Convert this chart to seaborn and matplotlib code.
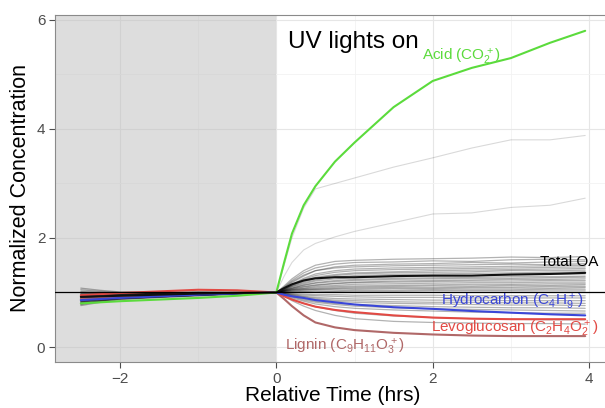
import matplotlib
matplotlib.use("Agg")
import matplotlib.pyplot as plt
from matplotlib.ticker import MultipleLocator
import numpy as np
import pandas as pd
import seaborn as sns

# === Data ===
time_hrs = [-2.5, -2.25, -2.0, -1.5, -1.0, -0.5, 0.0,
            0.1, 0.2, 0.35, 0.5, 0.75, 1.0, 1.5, 2.0, 2.5, 3.0, 3.5, 3.95]

acid = [0.80, 0.82, 0.84, 0.87, 0.90, 0.94, 1.0,
        1.55, 2.08, 2.60, 2.95, 3.40, 3.75, 4.40, 4.88, 5.12, 5.30, 5.58, 5.80]
total_oa = [0.92, 0.93, 0.94, 0.96, 0.98, 0.99, 1.0,
            1.08, 1.15, 1.22, 1.26, 1.28, 1.28, 1.30, 1.31, 1.31, 1.33, 1.34, 1.36]
hydrocarbon = [0.86, 0.88, 0.90, 0.93, 0.96, 0.98, 1.0,
               0.96, 0.93, 0.90, 0.86, 0.82, 0.78, 0.73, 0.70, 0.66, 0.63, 0.60, 0.58]
levoglucosan = [0.95, 0.97, 0.99, 1.02, 1.05, 1.04, 1.0,
                0.93, 0.87, 0.80, 0.74, 0.68, 0.64, 0.58, 0.54, 0.52, 0.51, 0.51, 0.51]
lignin = [0.88, 0.90, 0.92, 0.95, 0.97, 0.99, 1.0,
          0.88, 0.75, 0.58, 0.45, 0.36, 0.31, 0.26, 0.23, 0.21, 0.20, 0.20, 0.20]

# two faint ions that climb well above the bundle
high_ions = [
    [0.84, 0.87, 0.90, 0.93, 0.96, 0.98, 1.0, 1.50, 2.00, 2.55, 2.90, 3.00, 3.10, 3.30, 3.47, 3.65, 3.80, 3.80, 3.88],
    [0.90, 0.92, 0.94, 0.96, 0.98, 0.99, 1.0, 1.30, 1.55, 1.78, 1.90, 2.02, 2.12, 2.28, 2.44, 2.46, 2.56, 2.60, 2.73],
]

# remaining ions (gray bundle)
other_ions = [
    [0.78, 0.84, 0.88, 0.91, 0.94, 0.97, 1.0, 1.12, 1.25, 1.40, 1.50, 1.57, 1.59, 1.61, 1.62, 1.63, 1.65, 1.64, 1.66],
    [1.08, 1.04, 1.01, 1.00, 1.01, 1.00, 1.0, 1.10, 1.22, 1.36, 1.45, 1.52, 1.55, 1.56, 1.58, 1.57, 1.60, 1.61, 1.60],
    [0.85, 0.88, 0.91, 0.93, 0.95, 0.98, 1.0, 1.08, 1.18, 1.30, 1.40, 1.47, 1.50, 1.52, 1.53, 1.55, 1.54, 1.56, 1.57],
    [0.95, 0.96, 0.97, 0.98, 0.99, 1.00, 1.0, 1.09, 1.20, 1.32, 1.40, 1.45, 1.47, 1.49, 1.50, 1.51, 1.52, 1.51, 1.53],
    [0.80, 0.85, 0.89, 0.92, 0.95, 0.98, 1.0, 1.07, 1.15, 1.26, 1.34, 1.40, 1.43, 1.45, 1.46, 1.47, 1.48, 1.49, 1.50],
    [1.02, 1.00, 0.99, 0.99, 1.00, 1.00, 1.0, 1.06, 1.14, 1.24, 1.31, 1.37, 1.40, 1.42, 1.43, 1.44, 1.45, 1.46, 1.47],
    [0.90, 0.92, 0.94, 0.95, 0.97, 0.99, 1.0, 1.06, 1.13, 1.22, 1.28, 1.33, 1.36, 1.38, 1.40, 1.41, 1.42, 1.43, 1.44],
    [0.83, 0.87, 0.90, 0.93, 0.96, 0.98, 1.0, 1.05, 1.12, 1.20, 1.26, 1.31, 1.34, 1.36, 1.37, 1.38, 1.40, 1.40, 1.41],
    [0.98, 0.98, 0.98, 0.99, 1.00, 1.00, 1.0, 1.05, 1.11, 1.18, 1.23, 1.28, 1.31, 1.33, 1.34, 1.35, 1.36, 1.37, 1.38],
    [0.88, 0.90, 0.92, 0.94, 0.96, 0.99, 1.0, 1.04, 1.10, 1.16, 1.21, 1.25, 1.27, 1.29, 1.30, 1.31, 1.32, 1.33, 1.34],
    [0.93, 0.94, 0.95, 0.96, 0.98, 0.99, 1.0, 1.04, 1.08, 1.14, 1.18, 1.22, 1.24, 1.26, 1.27, 1.28, 1.29, 1.29, 1.30],
    [0.76, 0.82, 0.87, 0.91, 0.94, 0.97, 1.0, 1.04, 1.08, 1.13, 1.17, 1.20, 1.22, 1.24, 1.25, 1.26, 1.26, 1.27, 1.28],
    [1.05, 1.02, 1.00, 1.00, 1.00, 1.00, 1.0, 1.03, 1.07, 1.11, 1.14, 1.17, 1.19, 1.21, 1.22, 1.23, 1.24, 1.24, 1.25],
    [0.87, 0.89, 0.92, 0.94, 0.96, 0.98, 1.0, 1.03, 1.06, 1.10, 1.13, 1.16, 1.18, 1.19, 1.20, 1.21, 1.21, 1.22, 1.22],
    [0.96, 0.96, 0.97, 0.98, 0.99, 1.00, 1.0, 1.03, 1.05, 1.08, 1.11, 1.13, 1.15, 1.16, 1.17, 1.18, 1.18, 1.19, 1.19],
    [0.82, 0.86, 0.89, 0.92, 0.95, 0.98, 1.0, 1.02, 1.05, 1.07, 1.09, 1.11, 1.12, 1.13, 1.14, 1.15, 1.15, 1.16, 1.16],
    [0.91, 0.92, 0.94, 0.96, 0.97, 0.99, 1.0, 1.02, 1.04, 1.06, 1.07, 1.09, 1.10, 1.11, 1.12, 1.12, 1.13, 1.13, 1.14],
    [1.00, 0.99, 0.99, 0.99, 1.00, 1.00, 1.0, 1.02, 1.03, 1.05, 1.06, 1.07, 1.08, 1.09, 1.09, 1.10, 1.10, 1.11, 1.11],
    [0.86, 0.89, 0.91, 0.94, 0.96, 0.98, 1.0, 1.01, 1.02, 1.04, 1.05, 1.06, 1.06, 1.07, 1.07, 1.08, 1.08, 1.08, 1.09],
    [0.94, 0.95, 0.96, 0.97, 0.98, 0.99, 1.0, 1.01, 1.01, 1.02, 1.03, 1.03, 1.04, 1.04, 1.05, 1.05, 1.05, 1.06, 1.06],
    [0.79, 0.84, 0.88, 0.92, 0.95, 0.98, 1.0, 1.00, 1.00, 1.01, 1.01, 1.02, 1.02, 1.02, 1.03, 1.03, 1.03, 1.03, 1.03],
    [0.97, 0.97, 0.97, 0.98, 0.99, 1.00, 1.0, 0.99, 0.98, 0.97, 0.96, 0.96, 0.95, 0.95, 0.95, 0.94, 0.94, 0.94, 0.94],
    [0.89, 0.91, 0.93, 0.95, 0.97, 0.99, 1.0, 0.99, 0.97, 0.95, 0.94, 0.93, 0.92, 0.91, 0.91, 0.90, 0.90, 0.90, 0.90],
    [0.84, 0.87, 0.90, 0.93, 0.95, 0.98, 1.0, 0.98, 0.96, 0.93, 0.91, 0.89, 0.88, 0.87, 0.86, 0.86, 0.85, 0.85, 0.85],
    [0.99, 0.98, 0.98, 0.98, 0.99, 1.00, 1.0, 0.98, 0.95, 0.92, 0.89, 0.86, 0.85, 0.83, 0.82, 0.82, 0.81, 0.81, 0.80],
    [0.92, 0.93, 0.94, 0.96, 0.97, 0.99, 1.0, 0.97, 0.94, 0.90, 0.87, 0.84, 0.82, 0.80, 0.79, 0.78, 0.77, 0.77, 0.76],
    [0.81, 0.85, 0.89, 0.92, 0.95, 0.98, 1.0, 0.97, 0.93, 0.88, 0.84, 0.80, 0.78, 0.76, 0.74, 0.73, 0.72, 0.72, 0.71],
    [0.95, 0.95, 0.96, 0.97, 0.98, 0.99, 1.0, 0.96, 0.92, 0.86, 0.82, 0.78, 0.75, 0.72, 0.70, 0.69, 0.68, 0.67, 0.66],
    [0.87, 0.90, 0.92, 0.94, 0.96, 0.98, 1.0, 0.95, 0.90, 0.84, 0.79, 0.74, 0.71, 0.68, 0.66, 0.64, 0.63, 0.62, 0.62],
    [0.90, 0.92, 0.94, 0.96, 0.97, 0.99, 1.0, 0.94, 0.88, 0.80, 0.74, 0.67, 0.62, 0.57, 0.54, 0.52, 0.51, 0.50, 0.50],
    [0.83, 0.87, 0.90, 0.93, 0.96, 0.98, 1.0, 0.93, 0.85, 0.75, 0.67, 0.58, 0.52, 0.47, 0.45, 0.44, 0.43, 0.43, 0.42],
]

highlight_names = ["Lignin", "Levoglucosan", "Hydrocarbon", "Acid", "Total OA"]
highlight_values = [lignin, levoglucosan, hydrocarbon, acid, total_oa]
highlight_colors = ["#B06868", "#E24A44", "#3A46D8", "#5BDB3C", "#111111"]


def to_long(traces, prefix):
    rows = []
    for i, trace in enumerate(traces):
        for t, v in zip(time_hrs, trace):
            rows.append({"ion": f"{prefix}{i}", "time": t, "value": v})
    return pd.DataFrame(rows)


sns.set_style("white")
plt.rcParams["font.family"] = ["Liberation Sans", "DejaVu Sans"]

fig = plt.figure(figsize=(6.05, 4.08), dpi=100)
ax = fig.add_axes([55 / 605, 46 / 408, 556 / 605, 347 / 408])

# UV-off period shading
ax.axvspan(-2.83, 0, color="#BDBDBD", alpha=0.5, lw=0, zorder=0.6)

sns.lineplot(data=to_long(other_ions, "o"), x="time", y="value", units="ion",
             estimator=None, color="black", alpha=0.3, lw=0.9, ax=ax, zorder=2)
sns.lineplot(data=to_long(high_ions, "h"), x="time", y="value", units="ion",
             estimator=None, color="black", alpha=0.15, lw=0.8, ax=ax, zorder=2)

hl = to_long(highlight_values, "k")
hl["name"] = hl["ion"].map({f"k{i}": n for i, n in enumerate(highlight_names)})
sns.lineplot(data=hl, x="time", y="value", hue="name", hue_order=highlight_names,
             palette=highlight_colors, estimator=None, lw=1.5, ax=ax,
             legend=False, zorder=3)

ax.axhline(1, color="black", lw=0.9, zorder=4)

ax.set_xlim(-2.83, 4.28)
ax.set_ylim(-0.275, 6.09)
ax.xaxis.set_major_locator(MultipleLocator(2))
ax.xaxis.set_minor_locator(MultipleLocator(1))
ax.yaxis.set_major_locator(MultipleLocator(2))
ax.yaxis.set_minor_locator(MultipleLocator(1))
ax.set_axisbelow(True)
ax.grid(which="major", color="#E6E6E6", lw=0.8)
ax.grid(which="minor", color="#F2F2F2", lw=0.6)

for side in ["left", "bottom", "top"]:
    ax.spines[side].set_color("#8A8A8A")
    ax.spines[side].set_linewidth(0.8)
ax.spines["right"].set_visible(False)
ax.tick_params(which="major", length=4, width=0.8, color="#4D4D4D",
               labelsize=11, labelcolor="#4D4D4D", left=True, bottom=True, pad=3)
ax.tick_params(which="minor", length=0)

ax.set_xlabel("Relative Time (hrs)", fontsize=15, color="black", labelpad=0)
ax.set_ylabel("Normalized Concentration", fontsize=15.5, color="black", labelpad=4)

ax.text(0.15, 5.49, "UV lights on", fontsize=17.5, ha="left", va="baseline", color="black")
ax.text(2.87, 5.32, r"Acid (CO$\mathregular{_2^+}$)", fontsize=11, ha="right", va="center",
        color="#5BDB3C")
ax.text(4.12, 1.56, "Total OA", fontsize=11, ha="right", va="center", color="black")
ax.text(3.92, 0.83, r"Hydrocarbon (C$\mathregular{_4}$H$\mathregular{_9^+}$)", fontsize=11,
        ha="right", va="center", color="#3A46D8")
ax.text(4.12, 0.33, r"Levoglucosan (C$\mathregular{_2}$H$\mathregular{_4}$O$\mathregular{_2^+}$)",
        fontsize=11, ha="right", va="center", color="#E24A44")
ax.text(0.11, 0.0, r"Lignin (C$\mathregular{_9}$H$\mathregular{_{11}}$O$\mathregular{_3^+}$)",
        fontsize=11, ha="left", va="center", color="#B06868")

plt.savefig("out.png", dpi=100)
plt.close()
